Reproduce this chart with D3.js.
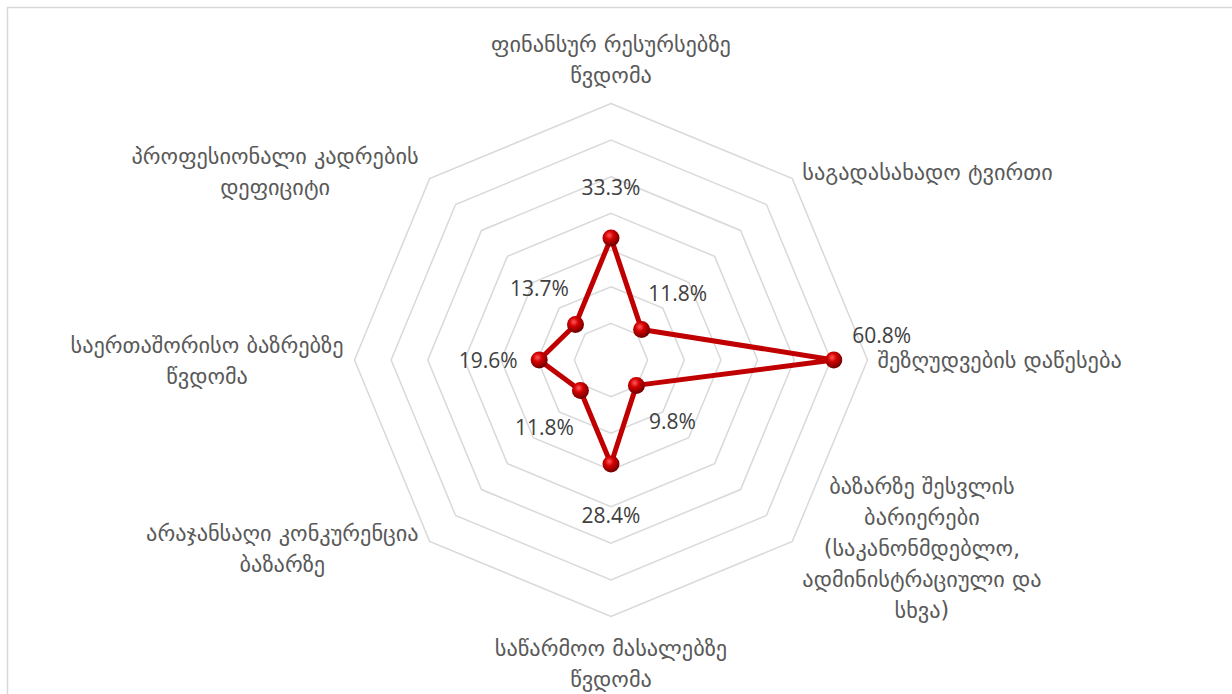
<!DOCTYPE html>
<html>
<head>
<meta charset="utf-8">
<script src="https://cdn.jsdelivr.net/npm/d3@7"></script>
<style>
  html, body { margin: 0; padding: 0; background: #fff; }
  svg { display: block; }
</style>
</head>
<body>
<svg id="chart"></svg>
<script>
// categories, each split into the lines as they are wrapped in the chart
const categories = [
  ["ფინანსურ რესურსებზე", "წვდომა"],
  ["საგადასახადო ტვირთი"],
  ["შეზღუდვების დაწესება"],
  ["ბაზარზე შესვლის", "ბარიერები", "(საკანონმდებლო,", "ადმინისტრაციული და", "სხვა)"],
  ["საწარმოო მასალებზე", "წვდომა"],
  ["არაჯანსაღი კონკურენცია", "ბაზარზე"],
  ["საერთაშორისო ბაზრებზე", "წვდომა"],
  ["პროფესიონალი კადრების", "დეფიციტი"]
];
const values = [33.3, 11.8, 60.8, 9.8, 28.4, 11.8, 19.6, 13.7];
const ticks = [10, 20, 30, 40, 50, 60, 70];

const width = 1232, height = 694;
const cx = 611, cy = 360, R = 256.5;

const svg = d3.select("#chart").attr("width", width).attr("height", height);

// chart frame
svg.append("rect")
  .attr("x", 7.5).attr("y", 7.5)
  .attr("width", width + 10).attr("height", height + 10)
  .attr("fill", "none").attr("stroke", "#d9d9d9").attr("stroke-width", 1.5);

const r = d3.scaleLinear().domain([0, d3.max(ticks)]).range([0, R]);
const angle = d3.scaleLinear().domain([0, categories.length]).range([0, 2 * Math.PI]);

const g = svg.append("g").attr("transform", `translate(${cx},${cy})`);

// sphere-like marker fill
const grad = svg.append("defs").append("radialGradient")
  .attr("id", "ball").attr("cx", "40%").attr("cy", "35%").attr("r", "65%");
grad.append("stop").attr("offset", "0%").attr("stop-color", "#ff5a5a");
grad.append("stop").attr("offset", "40%").attr("stop-color", "#d40000");
grad.append("stop").attr("offset", "100%").attr("stop-color", "#6e0000");

const radial = d3.lineRadial()
  .angle((d, i) => angle(i))
  .radius(d => r(d))
  .curve(d3.curveLinearClosed);

// octagon grid
g.append("g").selectAll("path")
  .data(ticks)
  .join("path")
  .attr("d", t => radial(categories.map(() => t)))
  .attr("fill", "none")
  .attr("stroke", "#d9d9d9")
  .attr("stroke-width", 1.5);

// series line
g.append("path")
  .attr("d", radial(values))
  .attr("fill", "none")
  .attr("stroke", "#c00000")
  .attr("stroke-width", 5)
  .attr("stroke-linejoin", "round");

const pt = (v, i) => [Math.sin(angle(i)) * r(v), -Math.cos(angle(i)) * r(v)];

g.append("g").selectAll("circle")
  .data(values)
  .join("circle")
  .attr("cx", (d, i) => pt(d, i)[0])
  .attr("cy", (d, i) => pt(d, i)[1])
  .attr("r", 8.5)
  .attr("fill", "url(#ball)");

// value labels, pushed out along the spoke (the big one nudged up off the category text)
g.append("g").selectAll("text")
  .data(values)
  .join("text")
  .attr("x", (d, i) => Math.sin(angle(i)) * (r(d) + 51) - (i === 2 ? 3 : 0))
  .attr("y", (d, i) => -Math.cos(angle(i)) * (r(d) + 51) + (i === 2 ? -25 : 0))
  .attr("text-anchor", "middle")
  .attr("dominant-baseline", "central")
  .attr("font-family", "'Open Sans', Lato, sans-serif")
  .attr("font-size", 21)
  .attr("fill", "#404040")
  .text(d => d.toFixed(1) + "%");

// category labels
const lineH = 31;
const cat = g.append("g")
  .attr("font-family", "'DejaVu Sans', sans-serif")
  .attr("font-size", 22.3)
  .attr("fill", "#595959");

categories.forEach((lines, i) => {
  const a = angle(i), s = Math.sin(a), c = Math.cos(a);
  const vx = s * R, vy = -c * R;
  const t = cat.append("text").attr("text-anchor", "middle").attr("dominant-baseline", "central");
  const spans = lines.map(l => t.append("tspan").text(l));
  const w = d3.max(spans, sp => sp.node().getComputedTextLength());
  const h = lines.length * lineH;
  let bx, by; // block centre
  if (Math.abs(s) < 0.01) {
    bx = vx;
    by = c > 0 ? vy - 13 - h / 2 : vy + 16 + h / 2;
  } else {
    bx = s > 0 ? vx + 10 + w / 2 : vx - 11 - w / 2;
    by = vy - (Math.abs(c) > 0.01 ? c * 10 : 0);
  }
  spans.forEach((sp, k) => sp.attr("x", bx).attr("y", by - h / 2 + lineH / 2 + k * lineH));
});
</script>
</body>
</html>
